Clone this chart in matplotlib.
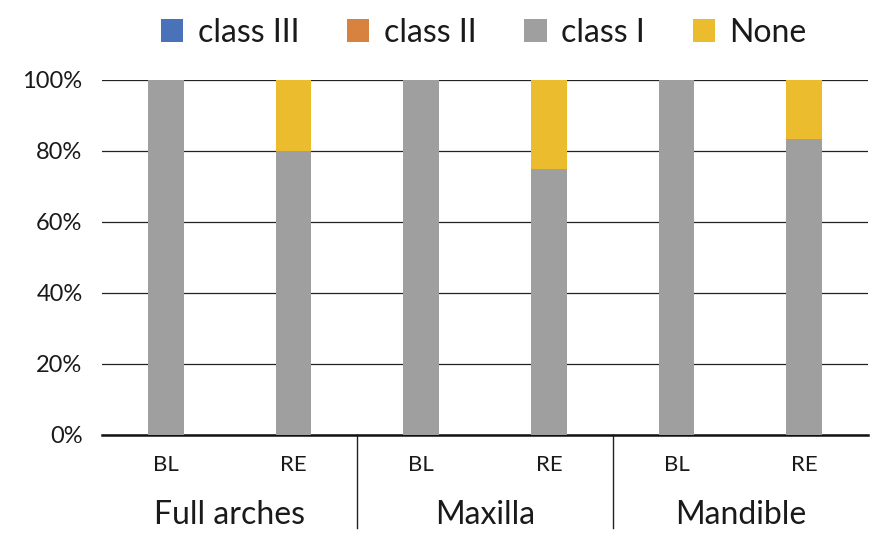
import matplotlib
matplotlib.use("Agg")
import matplotlib.pyplot as plt
import matplotlib.transforms as mtransforms
import numpy as np

# ---- data ----
groups = ["Full arches", "Maxilla", "Mandible"]
timepoints = ["BL", "RE"]
series = ["class III", "class II", "class I", "None"]
class_iii = [0, 0, 0, 0, 0, 0]
class_ii = [0, 0, 0, 0, 0, 0]
class_i = [100, 80, 100, 75, 100, 83.3]
none = [0, 20, 0, 25, 0, 16.7]

colors = ["#4a72b8", "#d8823f", "#9f9fa0", "#ebbc2e"]
TXT = "#1a1a1a"
plt.rcParams["font.family"] = ["Lato", "DejaVu Sans"]
plt.rcParams["font.weight"] = "normal"

fig = plt.figure(figsize=(8.96, 5.43), dpi=100)
ax = fig.add_axes([0.1138, 0.1989, 0.855, 0.6538])

x = np.arange(len(class_i))
width = 0.28
bottom = np.zeros(len(x))
handles = []
for vals, c, name in zip([class_iii, class_ii, class_i, none], colors, series):
    vals = np.array(vals, dtype=float)
    h = ax.bar(x, vals, width, bottom=bottom, color=c, label=name, zorder=3)
    handles.append(h)
    bottom += vals

ax.set_xlim(-0.5, len(x) - 0.5)
ax.set_ylim(0, 100)
ax.set_yticks(np.arange(0, 101, 20))
ax.set_yticklabels([f"{v}%" for v in range(0, 101, 20)], fontsize=17, color=TXT)
ax.tick_params(axis="y", length=0, pad=14)
ax.tick_params(axis="x", length=0, labelbottom=False)
ax.grid(True, axis="y", color="#222222", linewidth=0.9, zorder=0)
for s in ["top", "right", "left"]:
    ax.spines[s].set_visible(False)
ax.spines["bottom"].set_linewidth(1.8)
ax.spines["bottom"].set_color("#111111")

trans = mtransforms.blended_transform_factory(ax.transData, ax.transAxes)
# sub-category labels
for i in x:
    ax.text(i, -0.085, timepoints[i % 2], transform=trans, ha="center", va="center",
            fontsize=16, color=TXT)
# group labels
for g, name in enumerate(groups):
    ax.text(2 * g + 0.5, -0.225, name, transform=trans, ha="center", va="center",
            fontsize=23, color=TXT)
# separators
for g in range(1, len(groups)):
    ax.plot([2 * g - 0.5, 2 * g - 0.5], [0, -0.262], transform=trans, color="#222222",
            linewidth=1.0, clip_on=False)

fig.legend(handles, series, loc="center", bbox_to_anchor=(0.54, 0.94), ncol=4,
           frameon=False, fontsize=23, handlelength=0.7, handleheight=0.7,
           handletextpad=0.45, columnspacing=1.5, labelcolor=TXT)

fig.savefig("out.png", dpi=100)
